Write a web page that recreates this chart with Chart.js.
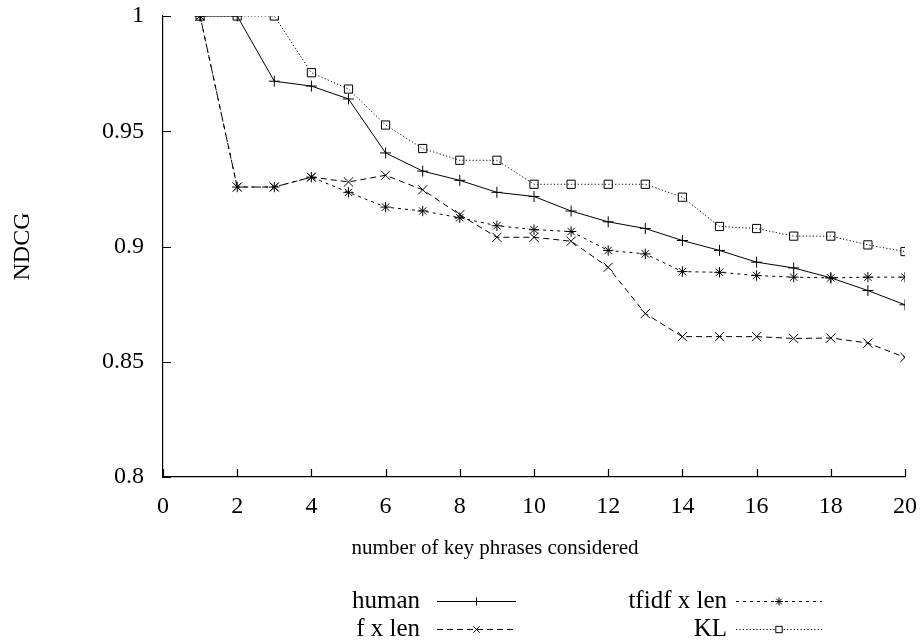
<!DOCTYPE html>
<html><head><meta charset="utf-8">
<script src="https://cdn.jsdelivr.net/npm/chart.js@4/dist/chart.umd.min.js"></script>
<style>html,body{margin:0;padding:0;background:#fff}#wrap{width:924px;height:642px;position:relative}</style>
</head><body><div id="wrap"><canvas id="c" width="924" height="642"></canvas></div>
<script>
const keyPhrases = [1,2,3,4,5,6,7,8,9,10,11,12,13,14,15,16,17,18,19,20];
const human     = [1,1,0.9717,0.9696,0.9640,0.9406,0.9327,0.9287,0.9235,0.9217,0.9154,0.9107,0.9078,0.9026,0.8983,0.8932,0.8907,0.8864,0.8809,0.8747];
const fxLen     = [1,0.9258,0.9258,0.9301,0.9280,0.9309,0.9246,0.9138,0.9040,0.9040,0.9023,0.8910,0.8709,0.8609,0.8609,0.8609,0.8601,0.8603,0.8581,0.8519];
const tfidfxLen = [1,0.9258,0.9258,0.9301,0.9235,0.9171,0.9154,0.9125,0.9090,0.9073,0.9065,0.8983,0.8968,0.8891,0.8888,0.8874,0.8867,0.8864,0.8867,0.8867];
const kl        = [1,1,1,0.9754,0.9683,0.9527,0.9425,0.9374,0.9374,0.9270,0.9270,0.9270,0.9270,0.9214,0.9087,0.9078,0.9045,0.9045,0.9007,0.8978];
const seriesNames = ['human','f x len','tfidf x len','KL'];
const xAxisTitle = 'number of key phrases considered';
const yAxisTitle = 'NDCG';

const FONT = '"Liberation Serif", "DejaVu Serif", serif';
const INK = '#000';
const pts = arr => arr.map((v,i)=>({x:keyPhrases[i], y:v}));

const styles = [
  {dash:[], pointStyle:'cross', r:5.5, lr:4},
  {dash:[6,4], pointStyle:'crossRot', r:6.5, lr:4.5},
  {dash:[3,4], pointStyle:'star', r:5.2, lr:4},
  {dash:[1.2,2.2], pointStyle:'rect', r:5.8, lr:4.5}
];
const values = [human, fxLen, tfidfxLen, kl];

const datasets = values.map((v,i)=>({
  label: seriesNames[i],
  data: pts(v),
  borderColor: INK,
  borderWidth: 1,
  borderDash: styles[i].dash,
  pointStyle: styles[i].pointStyle,
  pointRadius: styles[i].r,
  pointBorderColor: INK,
  pointBackgroundColor: 'rgba(0,0,0,0)',
  pointBorderWidth: 1,
  tension: 0,
  fill: false
}));

const tickPlugin = {
  id:'inwardTicks',
  afterDraw(chart){
    const ctx = chart.ctx, a = chart.chartArea;
    const xs = chart.scales.x, ys = chart.scales.y;
    ctx.save();
    ctx.strokeStyle = INK; ctx.lineWidth = 1.2;
    ctx.beginPath();
    xs.ticks.forEach(t=>{ const px = Math.round(xs.getPixelForValue(t.value))+0.5; ctx.moveTo(px,a.bottom); ctx.lineTo(px,a.bottom-8); });
    ys.ticks.forEach(t=>{ const py = Math.round(ys.getPixelForValue(t.value))+0.5; ctx.moveTo(a.left,py); ctx.lineTo(a.left+8,py); });
    ctx.stroke();
    ctx.font = '21px ' + FONT;
    ctx.fillStyle = INK;
    ctx.textAlign = 'center';
    ctx.textBaseline = 'middle';
    ctx.fillText(xAxisTitle, 495, 548);
    ctx.restore();
  }
};

const legendPlugin = {
  id:'gpLegend',
  afterDraw(chart){
    const ctx = chart.ctx;
    const cols = [{textRight:420, x1:437, x2:516},{textRight:727, x1:736, x2:822}];
    const rows = [601, 629];
    const layout = [[0,0,0],[2,1,0],[1,0,1],[3,1,1]];
    ctx.save();
    ctx.font = '25px ' + FONT;
    ctx.textAlign = 'right';
    ctx.textBaseline = 'middle';
    layout.forEach(([di,c,r])=>{
      const ds = chart.data.datasets[di];
      const col = cols[c], y = rows[r];
      ctx.fillStyle = INK;
      ctx.fillText(ds.label, col.textRight, y);
      ctx.strokeStyle = INK; ctx.lineWidth = 1;
      ctx.setLineDash(ds.borderDash);
      ctx.beginPath(); ctx.moveTo(col.x1, y+0.5); ctx.lineTo(col.x2, y+0.5); ctx.stroke();
      ctx.setLineDash([]);
      const cx = (col.x1+col.x2)/2;
      ctx.fillStyle = '#fff';
      Chart.helpers.drawPoint(ctx, {pointStyle: ds.pointStyle, radius: styles[di].lr, rotation:0, borderWidth:1}, cx, y+0.5);
    });
    ctx.restore();
  }
};

function noEdgePadding(s){ s.paddingTop = 0; s.paddingBottom = 0; s.paddingLeft = 0; s.paddingRight = 0; }

const TARGET = {top:16, right:905};
const chart = new Chart(document.getElementById('c'), {
  type:'line',
  data:{datasets},
  options:{
    responsive:false, animation:false, devicePixelRatio:1,
    layout:{padding:{left:0, right:19, top:16, bottom:0}},
    plugins:{legend:{display:false}, tooltip:{enabled:false}},
    scales:{
      x:{
        type:'linear', min:0, max:20,
        afterFit(s){ s.height = 165; noEdgePadding(s); },
        grid:{display:false, drawTicks:false},
        border:{display:true, color:INK, width:1.2},
        ticks:{stepSize:2, padding:15, color:INK, font:{family:FONT, size:24}, callback:v=>String(v), maxRotation:0}
      },
      y:{
        min:0.8, max:1,
        afterFit(s){ s.width = 163; noEdgePadding(s); },
        grid:{display:false, drawTicks:false},
        border:{display:true, color:INK, width:1.2},
        ticks:{stepSize:0.05, padding:19, color:INK, font:{family:FONT, size:24}, callback:v=>String(Math.round(v*100)/100)},
        title:{display:true, text:yAxisTitle, color:INK, font:{family:FONT, size:24}, padding:{top:8, bottom:0}}
      }
    }
  },
  plugins:[tickPlugin, legendPlugin]
});
for (let i=0;i<4;i++){
  const a = chart.chartArea, p = chart.config.options.layout.padding;
  const dTop = a.top - TARGET.top, dRight = TARGET.right - a.right;
  if (Math.abs(dTop) < 0.5 && Math.abs(dRight) < 0.5) break;
  p.top = Math.max(0, p.top - dTop);
  p.right = Math.max(0, p.right - dRight);
  chart.update('none');
}
</script>
</body></html>
